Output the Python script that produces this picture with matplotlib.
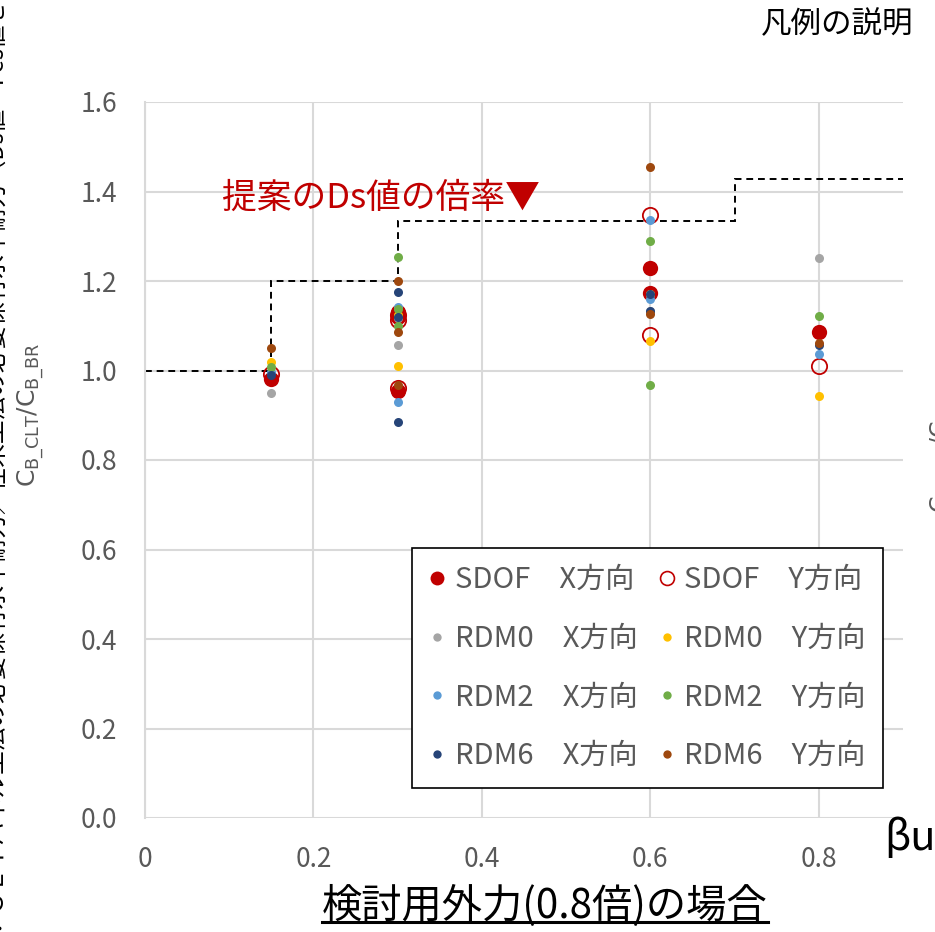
import matplotlib
matplotlib.use("Agg")
import matplotlib.pyplot as plt
from matplotlib.lines import Line2D

plt.rcParams['font.family'] = ['Noto Sans CJK JP', 'DejaVu Sans']

# -----------------------------
# Data
# -----------------------------
sdof_x_beta = [0.15, 0.3, 0.3, 0.3, 0.6, 0.6, 0.8]
sdof_x_val = [0.980, 1.130, 1.120, 0.955, 1.228, 1.174, 1.087]
sdof_y_beta = [0.15, 0.3, 0.3, 0.3, 0.6, 0.6, 0.8]
sdof_y_val = [0.992, 1.113, 1.125, 0.962, 1.348, 1.080, 1.009]

rdm0_x_beta = [0.15, 0.3, 0.3, 0.6, 0.6, 0.8]
rdm0_x_val = [0.949, 1.056, 1.118, 1.172, 1.133, 1.252]
rdm0_y_beta = [0.15, 0.3, 0.3, 0.6, 0.6, 0.8]
rdm0_y_val = [1.018, 1.009, 1.125, 1.067, 1.170, 0.944]

rdm2_x_beta = [0.15, 0.3, 0.3, 0.6, 0.6, 0.8]
rdm2_x_val = [0.996, 1.143, 0.930, 1.337, 1.160, 1.036]
rdm2_y_beta = [0.15, 0.3, 0.3, 0.3, 0.6, 0.6, 0.8]
rdm2_y_val = [1.007, 1.254, 1.138, 1.100, 1.290, 0.967, 1.121]

rdm6_x_beta = [0.15, 0.3, 0.3, 0.3, 0.6, 0.6, 0.8]
rdm6_x_val = [0.990, 1.176, 1.120, 0.886, 1.170, 1.134, 1.056]
rdm6_y_beta = [0.15, 0.3, 0.3, 0.3, 0.6, 0.6, 0.8]
rdm6_y_val = [1.051, 1.199, 1.087, 0.967, 1.455, 1.127, 1.062]

# proposed Ds ratio (step line)
step_edges = [0.0, 0.15, 0.3, 0.7, 0.9]
step_vals = [1.0, 1.2, 1.333, 1.429]

x_ticks = [0, 0.2, 0.4, 0.6, 0.8]
x_ticklabels = ["0", "0.2", "0.4", "0.6", "0.8"]
y_ticks = [0.0, 0.2, 0.4, 0.6, 0.8, 1.0, 1.2, 1.4, 1.6]

RED = "#C00000"
GRID = "#D9D9D9"
TXT = "#595959"

# -----------------------------
# Figure
# -----------------------------
fig = plt.figure(figsize=(9.35, 9.32), dpi=100)
ax = fig.add_axes([145 / 935, 1 - 818 / 932, 758 / 935, 716 / 932])

ax.stairs(step_vals, step_edges, baseline=None, color="black",
          linestyle=(0, (3.5, 2.5)), linewidth=1.4, zorder=2)

series = [
    (sdof_x_beta, sdof_x_val, RED, RED, 11, "SDOF　X方向"),
    (sdof_y_beta, sdof_y_val, "white", RED, 11, "SDOF　Y方向"),
    (rdm0_x_beta, rdm0_x_val, "#A5A5A5", "#A5A5A5", 6.5, "RDM0　X方向"),
    (rdm0_y_beta, rdm0_y_val, "#FFC000", "#FFC000", 6.5, "RDM0　Y方向"),
    (rdm2_x_beta, rdm2_x_val, "#5B9BD5", "#5B9BD5", 6.5, "RDM2　X方向"),
    (rdm2_y_beta, rdm2_y_val, "#70AD47", "#70AD47", 6.5, "RDM2　Y方向"),
    (rdm6_x_beta, rdm6_x_val, "#264478", "#264478", 6.5, "RDM6　X方向"),
    (rdm6_y_beta, rdm6_y_val, "#9E480E", "#9E480E", 6.5, "RDM6　Y方向"),
]

handles = []
for xs, ys, fc, ec, ms, lab in series:
    if fc == "white":
        ax.plot(xs, ys, "o", ms=ms, mfc="none", mec=ec, mew=1.3, zorder=3)
    else:
        ax.plot(xs, ys, "o", ms=ms, mfc=fc, mec=ec, mew=0, zorder=3)
    hms = 10 if ms > 8 else 6
    handles.append(Line2D([], [], ls="none", marker="o", ms=hms,
                          mfc=("none" if fc == "white" else fc), mec=ec,
                          mew=(1.2 if fc == "white" else 0), label=lab))

ax.set_xlim(0, 0.9)
ax.set_ylim(0, 1.6)
ax.set_xticks(x_ticks)
ax.set_xticklabels(x_ticklabels)
ax.set_yticks(y_ticks)
ax.set_yticklabels([f"{v:.1f}" for v in y_ticks])
ax.tick_params(length=0, pad=20, labelsize=19, labelcolor=TXT)
ax.grid(True, color=GRID, linewidth=1.5, zorder=0)
ax.set_axisbelow(True)
for s in ["top", "right", "bottom"]:
    ax.spines[s].set_visible(False)
ax.spines["left"].set_color(GRID)
ax.spines["left"].set_linewidth(1.5)

# legend is filled row by row: X direction left, Y direction right
leg_handles = handles[0::2] + handles[1::2]
leg = ax.legend(handles=leg_handles, ncol=2, loc="lower left",
                bbox_to_anchor=(0.352, 0.042), borderaxespad=0,
                fontsize=21, frameon=True, fancybox=False,
                edgecolor="black", framealpha=1, labelcolor=TXT,
                handletextpad=0.3, columnspacing=0.7, labelspacing=0.98,
                borderpad=0.58, handlelength=0.6)
leg.get_frame().set_linewidth(1.2)

fig.text(222 / 935, 1 - 198 / 932, "提案のDs値の倍率▼", color=RED,
         fontsize=25, ha="left", va="center")

# y axis label
fig.text(31 / 935, 1 - 415 / 932, r"$\mathregular{C_{B\_CLT}/C_{B\_BR}}$",
         rotation=90, ha="center", va="center", color=TXT, fontsize=18,
         family=["Liberation Sans Narrow", "DejaVu Sans"])
# neighbouring chart label, cut at the right edge
fig.text(944 / 935, 1 - 445 / 932, r"$\mathregular{C_{B\_CLT}/C_{B\_BR}}$",
         rotation=90, ha="center", va="center", color=TXT, fontsize=17,
         family=["Liberation Sans Narrow", "DejaVu Sans"])
# side note, cut at the left edge
fig.text(-6 / 935, 0.5,
         "※縦軸：ＣＬＴパネル工法の必要保有水平耐力／在来工法の必要保有水平耐力（Ds値・Fes値を考慮）",
         rotation=90, ha="center", va="center", color="black", fontsize=17)

fig.text(837 / 935, 1 - 25 / 932, "凡例の説明", fontsize=22,
         ha="center", va="center", color="black")
fig.text(884 / 935, 1 - 838 / 932, "βu", fontsize=30,
         ha="left", va="center", color="black")

xl = fig.text(545 / 935, 1 - 906 / 932, "検討用外力(0.8倍)の場合",
              fontsize=29, ha="center", va="center", color="black")

# underline the x label
fig.canvas.draw()
bb = xl.get_window_extent(fig.canvas.get_renderer())
fig.add_artist(Line2D([bb.x0 / 935, bb.x1 / 935],
                      [(932 - 922) / 932, (932 - 922) / 932],
                      color="black", linewidth=2.2,
                      transform=fig.transFigure))

fig.savefig("out.png", dpi=100)
